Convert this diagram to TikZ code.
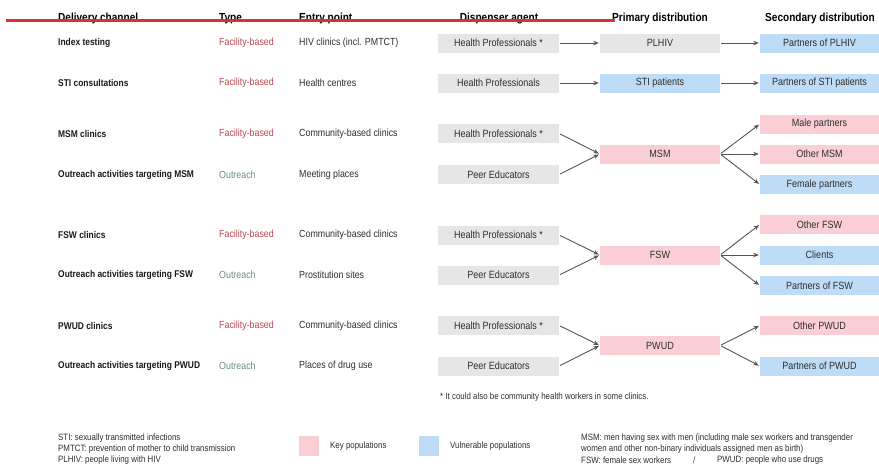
\documentclass[tikz,border=0pt]{standalone}
\usepackage{fontspec}
\setmainfont{Liberation Sans}[FakeStretch=0.86]
\usetikzlibrary{arrows.meta}
\definecolor{boxgray}{HTML}{E6E6E6}
\definecolor{boxpink}{HTML}{F9CED4}
\definecolor{boxblue}{HTML}{BEDCF6}
\definecolor{facred}{HTML}{B9474F}
\definecolor{outgreen}{HTML}{6A8C84}
\definecolor{txtdark}{HTML}{2E2E2E}
\definecolor{arrgray}{HTML}{555555}
\definecolor{topred}{HTML}{D6323A}
\tikzset{
  x=1pt, y=-1pt,
  hdr/.style={font=\fontsize{11.7}{13}\selectfont\bfseries, text=black, inner sep=0pt},
  chan/.style={anchor=west, font=\fontsize{9.8}{11}\selectfont\bfseries, text=black!90, inner sep=0pt},
  facil/.style={anchor=west, font=\fontsize{10.3}{11}\selectfont, text=facred, inner sep=0pt},
  outr/.style={anchor=west, font=\fontsize{10.3}{11}\selectfont, text=outgreen, inner sep=0pt},
  entry/.style={anchor=west, font=\fontsize{10.3}{11}\selectfont, text=txtdark, inner sep=0pt},
  boxbase/.style={minimum height=19pt, inner sep=0pt, font=\fontsize{10.5}{11}\selectfont, text=txtdark},
  dbox/.style={boxbase, fill=boxgray, minimum width=121pt},
  gbox/.style={boxbase, fill=boxgray, minimum width=120pt},
  pbox/.style={boxbase, fill=boxpink, minimum width=120pt},
  bbox/.style={boxbase, fill=boxblue, minimum width=120pt},
  spbox/.style={boxbase, fill=boxpink, minimum width=119pt},
  sbbox/.style={boxbase, fill=boxblue, minimum width=119pt},
  arr/.style={draw=arrgray, line width=0.9pt, -{Stealth[length=5.5pt,width=4.5pt]}, shorten <=1pt, shorten >=1pt},
  small/.style={anchor=west, font=\fontsize{9.2}{11}\selectfont, text=txtdark, inner sep=0pt},
}
\begin{document}
\begin{tikzpicture}
\useasboundingbox (0,0) rectangle (879,467);
% headers
\node[hdr, anchor=base west] (h1) at (58,21.5) {Delivery channel};
\node[hdr, anchor=base west] (h2) at (219,21.5) {Type};
\node[hdr, anchor=base west] (h3) at (299,21.5) {Entry point};
\node[hdr, anchor=base] (h4) at (499,21.5) {Dispenser agent};
\node[hdr, anchor=base] (h5) at (660,21.5) {Primary distribution};
\node[hdr, anchor=base] (h6) at (820,21.5) {Secondary distribution};
\fill[topred] (6,19) rectangle (615,22.3);

% rows: channel, type, entry
\node[chan] (c1) at (58,43) {Index testing};
\node[facil] (t1) at (219,43) {Facility-based};
\node[entry] (e1) at (299,43) {HIV clinics (incl. PMTCT)};

\node[chan] (c2) at (58,83) {STI consultations};
\node[facil] (t2) at (219,83) {Facility-based};
\node[entry] (e2) at (299,83) {Health centres};

\node[chan] (c3) at (58,133.5) {MSM clinics};
\node[facil] (t3) at (219,133.5) {Facility-based};
\node[entry] (e3) at (299,133.5) {Community-based clinics};

\node[chan] (c4) at (58,174.5) {Outreach activities targeting MSM};
\node[outr] (t4) at (219,174.5) {Outreach};
\node[entry] (e4) at (299,174.5) {Meeting places};

\node[chan] (c5) at (58,235) {FSW clinics};
\node[facil] (t5) at (219,235) {Facility-based};
\node[entry] (e5) at (299,235) {Community-based clinics};

\node[chan] (c6) at (58,275) {Outreach activities targeting FSW};
\node[outr] (t6) at (219,275) {Outreach};
\node[entry] (e6) at (299,275) {Prostitution sites};

\node[chan] (c7) at (58,325.5) {PWUD clinics};
\node[facil] (t7) at (219,325.5) {Facility-based};
\node[entry] (e7) at (299,325.5) {Community-based clinics};

\node[chan] (c8) at (58,366) {Outreach activities targeting PWUD};
\node[outr] (t8) at (219,366) {Outreach};
\node[entry] (e8) at (299,366) {Places of drug use};

% dispenser boxes
\node[dbox] (d1) at (498.5,43) {Health Professionals *};
\node[dbox] (d2) at (498.5,83) {Health Professionals};
\node[dbox] (d3) at (498.5,133.5) {Health Professionals *};
\node[dbox] (d4) at (498.5,174.5) {Peer Educators};
\node[dbox] (d5) at (498.5,235) {Health Professionals *};
\node[dbox] (d6) at (498.5,275) {Peer Educators};
\node[dbox] (d7) at (498.5,325.5) {Health Professionals *};
\node[dbox] (d8) at (498.5,366) {Peer Educators};

% primary
\node[gbox] (p1) at (660,43) {PLHIV};
\node[bbox] (p2) at (660,83) {STI patients};
\node[pbox] (p3) at (660,154) {MSM};
\node[pbox] (p4) at (660,255) {FSW};
\node[pbox] (p5) at (660,345.5) {PWUD};

% secondary
\node[sbbox] (s1) at (819.5,43) {Partners of PLHIV};
\node[sbbox] (s2) at (819.5,83) {Partners of STI patients};
\node[spbox] (s3) at (819.5,124) {Male partners};
\node[spbox] (s4) at (819.5,154) {Other MSM};
\node[sbbox] (s5) at (819.5,184.5) {Female partners};
\node[spbox] (s6) at (819.5,224.5) {Other FSW};
\node[sbbox] (s7) at (819.5,255) {Clients};
\node[sbbox] (s8) at (819.5,285.5) {Partners of FSW};
\node[spbox] (s9) at (819.5,325.5) {Other PWUD};
\node[sbbox] (s10) at (819.5,366) {Partners of PWUD};

% arrows
\draw[arr] (d1.east) -- (p1.west);
\draw[arr] (d2.east) -- (p2.west);
\draw[arr] (d3.east) -- (p3.west);
\draw[arr] (d4.east) -- (p3.west);
\draw[arr] (d5.east) -- (p4.west);
\draw[arr] (d6.east) -- (p4.west);
\draw[arr] (d7.east) -- (p5.west);
\draw[arr] (d8.east) -- (p5.west);

\draw[arr] (p1.east) -- (s1.west);
\draw[arr] (p2.east) -- (s2.west);
\draw[arr] (p3.east) -- (s3.west);
\draw[arr] (p3.east) -- (s4.west);
\draw[arr] (p3.east) -- (s5.west);
\draw[arr] (p4.east) -- (s6.west);
\draw[arr] (p4.east) -- (s7.west);
\draw[arr] (p4.east) -- (s8.west);
\draw[arr] (p5.east) -- (s9.west);
\draw[arr] (p5.east) -- (s10.west);

% footnote
\node[small] (fn) at (440,397) {* It could also be community health workers in some clinics.};

% legend
\node[small] (l1) at (58,438) {STI: sexually transmitted infections};
\node[small] (l2) at (58,449) {PMTCT: prevention of mother to child transmission};
\node[small] (l3) at (58,460) {PLHIV: people living with HIV};
\node[fill=boxpink, minimum width=20pt, minimum height=20pt, inner sep=0pt] (kp) at (308.5,446) {};
\node[small] (kpt) at (330,446) {Key populations};
\node[fill=boxblue, minimum width=20pt, minimum height=20pt, inner sep=0pt] (vp) at (429,446) {};
\node[small] (vpt) at (450,446) {Vulnerable populations};
\node[small] (m1) at (581,438) {MSM: men having sex with men (including male sex workers and transgender};
\node[small] (m2) at (581,449) {women and other non-binary individuals assigned men as birth)};
\node[small] (m3) at (581,460) {FSW: female sex workers};
\node[small] (m4) at (693,460) {/};
\node[small] (m5) at (717,460) {PWUD: people who use drugs};
\end{tikzpicture}
\end{document}
